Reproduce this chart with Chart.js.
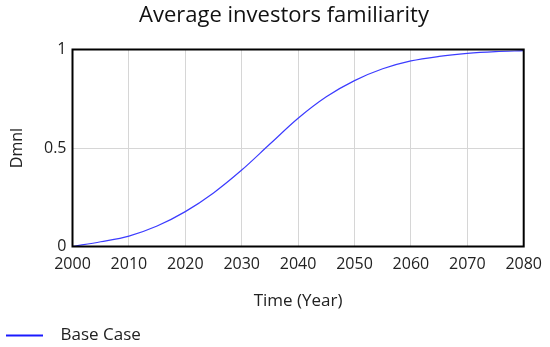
<!DOCTYPE html>
<html>
<head>
<meta charset="utf-8">
<script src="https://cdn.jsdelivr.net/npm/chart.js@4/dist/chart.umd.min.js"></script>
<style>
  html, body { margin: 0; padding: 0; background: #fff; }
  #wrap { width: 550px; height: 347px; }
</style>
</head>
<body>
<div id="wrap"><canvas id="chart"></canvas></div>
<script>
// values
const years = [2000, 2005, 2010, 2015, 2020, 2025, 2030, 2035, 2040, 2045, 2050, 2055, 2060, 2065, 2070, 2075, 2080];
const baseCase = [0, 0.024, 0.053, 0.104, 0.177, 0.272, 0.388, 0.52, 0.651, 0.76, 0.842, 0.902, 0.942, 0.965, 0.98, 0.989, 0.994];
const seriesName = "Base Case";
const chartTitle = "Average investors familiarity";
const xTitle = "Time (Year)";
const yTitle = "Dmnl";

const FONT = "'Open Sans', sans-serif";
const lineColor = "#3c3cff";

// legend marker: a short line, leaving a gap before the text
const legendLine = document.createElement("canvas");
legendLine.width = 46;
legendLine.height = 4;
const lctx = legendLine.getContext("2d");
lctx.strokeStyle = "#1a1aff";
lctx.lineWidth = 2;
lctx.beginPath();
lctx.moveTo(0, 2);
lctx.lineTo(37, 2);
lctx.stroke();

// box around the plot area
const frame = {
  id: "frame",
  afterDraw(chart) {
    const a = chart.chartArea;
    const ctx = chart.ctx;
    ctx.save();
    ctx.strokeStyle = "#000";
    ctx.lineWidth = 2;
    ctx.strokeRect(a.left, a.top, a.right - a.left, a.bottom - a.top);
    ctx.restore();
  }
};

const ctx = document.getElementById("chart").getContext("2d");
const chart = new Chart(ctx, {
  type: "line",
  data: {
    datasets: [{
      label: seriesName,
      data: years.map((y, i) => ({ x: y, y: baseCase[i] })),
      borderColor: lineColor,
      backgroundColor: lineColor,
      borderWidth: 1.2,
      pointRadius: 0,
      cubicInterpolationMode: "monotone",
      fill: false
    }]
  },
  options: {
    responsive: true,
    maintainAspectRatio: false,
    animation: false,
    // negative right padding pulls the title centre right; the empty
    // right axis keeps the plot edge where it was
    layout: { padding: { top: 0, left: 0, right: -18, bottom: -7 } },
    scales: {
      x: {
        type: "linear",
        min: 2000,
        max: 2080,
        afterFit(scale) { scale.height = 74.5; },
        ticks: {
          stepSize: 10,
          padding: 8,
          color: "#222",
          font: { family: FONT, size: 16 },
          maxRotation: 0,
          callback: v => String(v)
        },
        grid: { color: "#d6d6d6", drawTicks: false },
        border: { display: false },
        title: {
          display: true,
          text: xTitle,
          color: "#222",
          font: { family: FONT, size: 17 },
          padding: { top: 0, bottom: 10 }
        }
      },
      y: {
        min: 0,
        max: 1,
        afterFit(scale) { scale.width = 72.5; },
        ticks: {
          stepSize: 0.5,
          padding: 6,
          color: "#222",
          font: { family: FONT, size: 16 },
          callback: v => String(v)
        },
        grid: { color: "#d6d6d6", drawTicks: false },
        border: { display: false },
        title: {
          display: true,
          text: yTitle,
          color: "#222",
          font: { family: FONT, size: 16 },
          padding: { top: 8.3, bottom: 0 }
        }
      },
      yRight: {
        position: "right",
        afterFit(scale) { scale.width = 43.5; },
        ticks: { display: false },
        grid: { display: false },
        border: { display: false }
      }
    },
    plugins: {
      title: {
        display: true,
        text: chartTitle,
        color: "#111",
        font: { family: FONT, size: 22, weight: "normal" },
        padding: { top: 2.5, bottom: 20.6 }
      },
      legend: {
        position: "bottom",
        align: "start",
        labels: {
          usePointStyle: true,
          pointStyle: legendLine,
          pointStyleWidth: 46,
          padding: 6,
          color: "#222",
          font: { family: FONT, size: 17 }
        }
      },
      tooltip: { enabled: false }
    }
  },
  plugins: [frame]
});
</script>
</body>
</html>
